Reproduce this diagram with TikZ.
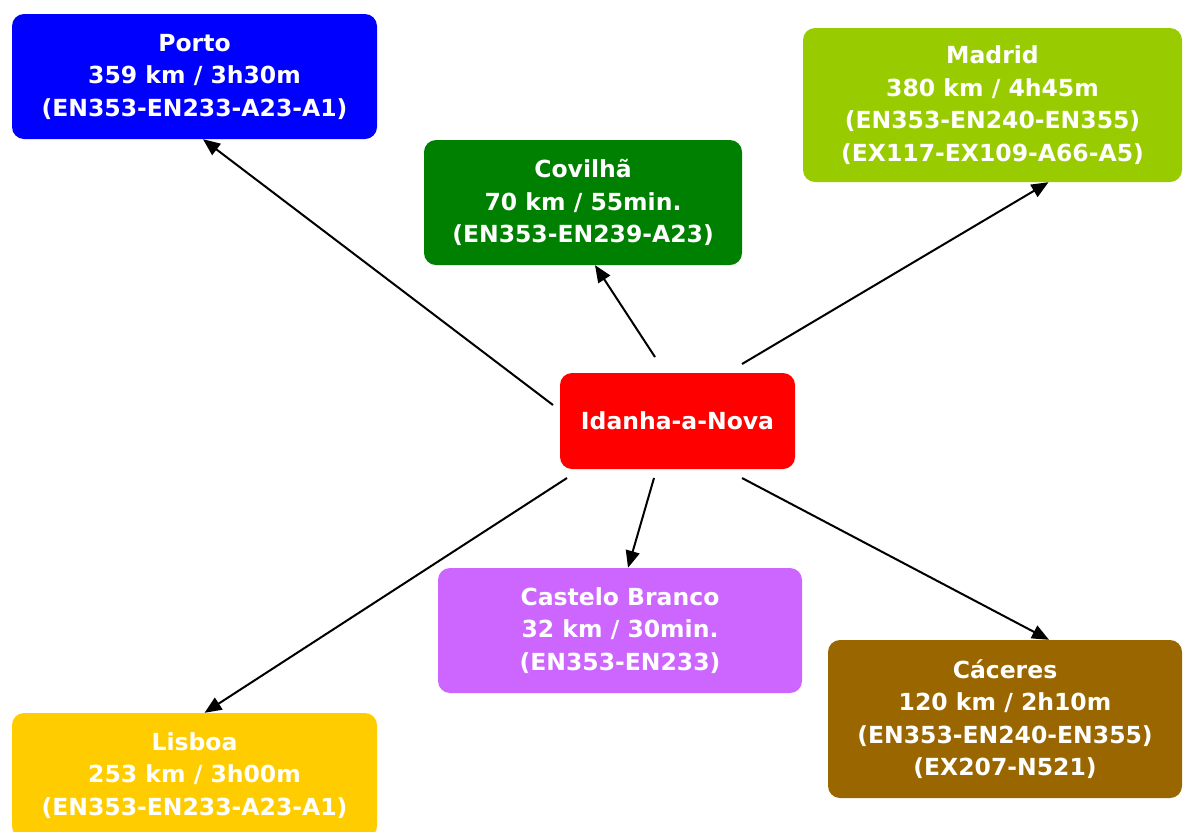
\documentclass[tikz,border=0pt]{standalone}
\usepackage{fontspec}
\setmainfont{DejaVu Sans}
\usetikzlibrary{arrows.meta}
\definecolor{portoblue}{HTML}{0000FF}
\definecolor{covilhagreen}{HTML}{008000}
\definecolor{madridgreen}{HTML}{99CC00}
\definecolor{idanhared}{HTML}{FF0000}
\definecolor{castelopink}{HTML}{CC66FF}
\definecolor{lisboayellow}{HTML}{FFCC00}
\definecolor{caceresbrown}{HTML}{996600}
\begin{document}
\begin{tikzpicture}[x=1pt, y=-1pt,
    city/.style={rectangle, rounded corners=12pt, text=white, align=center, inner sep=0pt, font=\fontsize{23.5}{32.5}\selectfont\bfseries},
    road/.style={-{Triangle[length=17pt,width=14pt]}, line width=2pt}]
            \useasboundingbox (0,0) rectangle (1183,831);
            \node[city, fill=portoblue, minimum width=365pt, minimum height=125pt] (porto) at (194.5,76.5) {Porto\\359 km / 3h30m\\(EN353-EN233-A23-A1)};
            \node[city, fill=covilhagreen, minimum width=318pt, minimum height=125pt] (covilha) at (583,202.5) {Covilhã\\70 km / 55min.\\(EN353-EN239-A23)};
            \node[city, fill=madridgreen, minimum width=379pt, minimum height=154pt] (madrid) at (992.5,105) {Madrid\\380 km / 4h45m\\(EN353-EN240-EN355)\\(EX117-EX109-A66-A5)};
            \node[city, fill=idanhared, minimum width=235pt, minimum height=96pt] (idanha) at (677.5,421) {Idanha-a-Nova};
            \node[city, fill=castelopink, minimum width=364pt, minimum height=125pt] (castelo) at (620,630.5) {Castelo Branco\\32 km / 30min.\\(EN353-EN233)};
            \node[city, fill=lisboayellow, minimum width=365pt, minimum height=125pt] (lisboa) at (194.5,775.5) {Lisboa\\253 km / 3h00m\\(EN353-EN233-A23-A1)};
            \node[city, fill=caceresbrown, minimum width=354pt, minimum height=158pt] (caceres) at (1005,719) {Cáceres\\120 km / 2h10m\\(EN353-EN240-EN355)\\(EX207-N521)};
            % arrow starts, kept clear of the centre box
            \coordinate (toporto) at (553,405);
            \coordinate (tocovilha) at (655,357);
            \coordinate (tomadrid) at (742,364);
            \coordinate (tolisboa) at (567,478);
            \coordinate (tocastelo) at (654,478);
            \coordinate (tocaceres) at (742,478);
            \draw[road] (toporto) -- ([xshift=8.5pt]porto.south);
            \draw[road] (tocovilha) -- ([xshift=12pt]covilha.south);
            \draw[road] (tomadrid) -- ([xshift=56pt]madrid.south);
            \draw[road] (tolisboa) -- ([xshift=10pt]lisboa.north);
            \draw[road] (tocastelo) -- ([xshift=8pt]castelo.north);
            \draw[road] (tocaceres) -- ([xshift=44pt]caceres.north);
        \end{tikzpicture}
\end{document}
